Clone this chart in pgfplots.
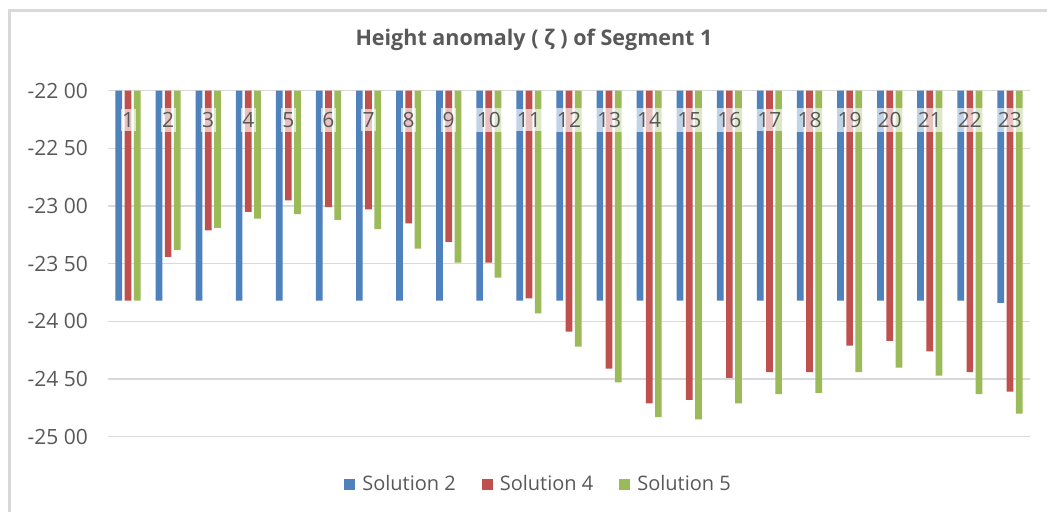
\documentclass[border=0pt]{standalone}
\usepackage{fontspec}
\setmainfont{Open Sans}
\usepackage{pgfplots}
\usepackage{pgfplotstable}
\pgfplotsset{compat=1.18}
\definecolor{sblue}{HTML}{4F81BD}
\definecolor{sred}{HTML}{C0504D}
\definecolor{sgreen}{HTML}{9BBB59}
\definecolor{txt}{HTML}{595959}
\definecolor{gridc}{HTML}{D9D9D9}

\pgfplotstableread{
x s2 s4 s5
1 -23.82 -23.82 -23.82
2 -23.82 -23.44 -23.38
3 -23.82 -23.21 -23.19
4 -23.82 -23.05 -23.11
5 -23.82 -22.95 -23.07
6 -23.82 -23.01 -23.12
7 -23.82 -23.03 -23.20
8 -23.82 -23.15 -23.37
9 -23.82 -23.31 -23.49
10 -23.82 -23.49 -23.62
11 -23.82 -23.80 -23.93
12 -23.82 -24.09 -24.22
13 -23.82 -24.41 -24.53
14 -23.82 -24.71 -24.83
15 -23.82 -24.68 -24.85
16 -23.82 -24.49 -24.71
17 -23.82 -24.44 -24.63
18 -23.82 -24.44 -24.62
19 -23.82 -24.21 -24.44
20 -23.82 -24.17 -24.40
21 -23.82 -24.26 -24.47
22 -23.82 -24.44 -24.63
23 -23.84 -24.61 -24.80
}\datatable

\begin{document}
\begin{tikzpicture}
\fill[white] (0,0) rectangle (1047pt,512pt);
\draw[line width=3pt, gridc] (9.5pt,0) -- (9.5pt,501pt) -- (1047pt,501pt);
\begin{axis}[
  at={(108pt,75.3pt)}, anchor=south west,
  scale only axis, width=922pt, height=346pt,
  xmin=0.5, xmax=23.5, ymin=-25, ymax=-22,
  ybar=2.5pt, bar width=6.7pt,
  axis line style={draw=none},
  major tick length=0pt,
  ymajorgrids, grid style={gridc, line width=1.3pt},
  ytick={-25,-24.5,-24,-23.5,-23,-22.5,-22},
  yticklabels={-25 00,-24 50,-24 00,-23 50,-23 00,-22 50,-22 00},
  yticklabel style={font=\fontsize{21}{25}\selectfont, text=txt, anchor=east, inner sep=0pt, xshift=-20pt},
  xtick=\empty,
  title={Height anomaly ( ζ ) of Segment 1},
  title style={at={(axis description cs:0.462,1)}, anchor=center, yshift=44.7pt, font=\fontsize{21.5}{25}\selectfont\bfseries, text=txt},
  legend style={at={(axis description cs:0.467,-0.137)}, anchor=center, draw=none, legend columns=-1, font=\fontsize{20}{24}\selectfont, text=txt, /tikz/every even column/.append style={column sep=24pt}, /tikz/every odd column/.append style={column sep=5pt}},
  legend image code/.code={\draw[#1, draw=none] (0pt,-5.5pt) rectangle (11pt,5.5pt);},
]
\addplot[fill=sblue, draw=none] table[x=x,y=s2]{\datatable};
\addplot[fill=sred, draw=none] table[x=x,y=s4]{\datatable};
\addplot[fill=sgreen, draw=none] table[x=x,y=s5]{\datatable};
\legend{Solution 2,Solution 4,Solution 5}
\pgfplotsinvokeforeach{1,...,23}{
  \node[font=\fontsize{21}{25}\selectfont, text=txt, fill=white, fill opacity=0.65, text opacity=1, inner xsep=1.5pt, inner ysep=4pt, anchor=center, yshift=-29.3pt] at (axis cs:#1,-22) {#1};
}
\end{axis}
\pgfresetboundingbox
\path[use as bounding box] (0,0) rectangle (1047pt,512pt);
\end{tikzpicture}
\end{document}
